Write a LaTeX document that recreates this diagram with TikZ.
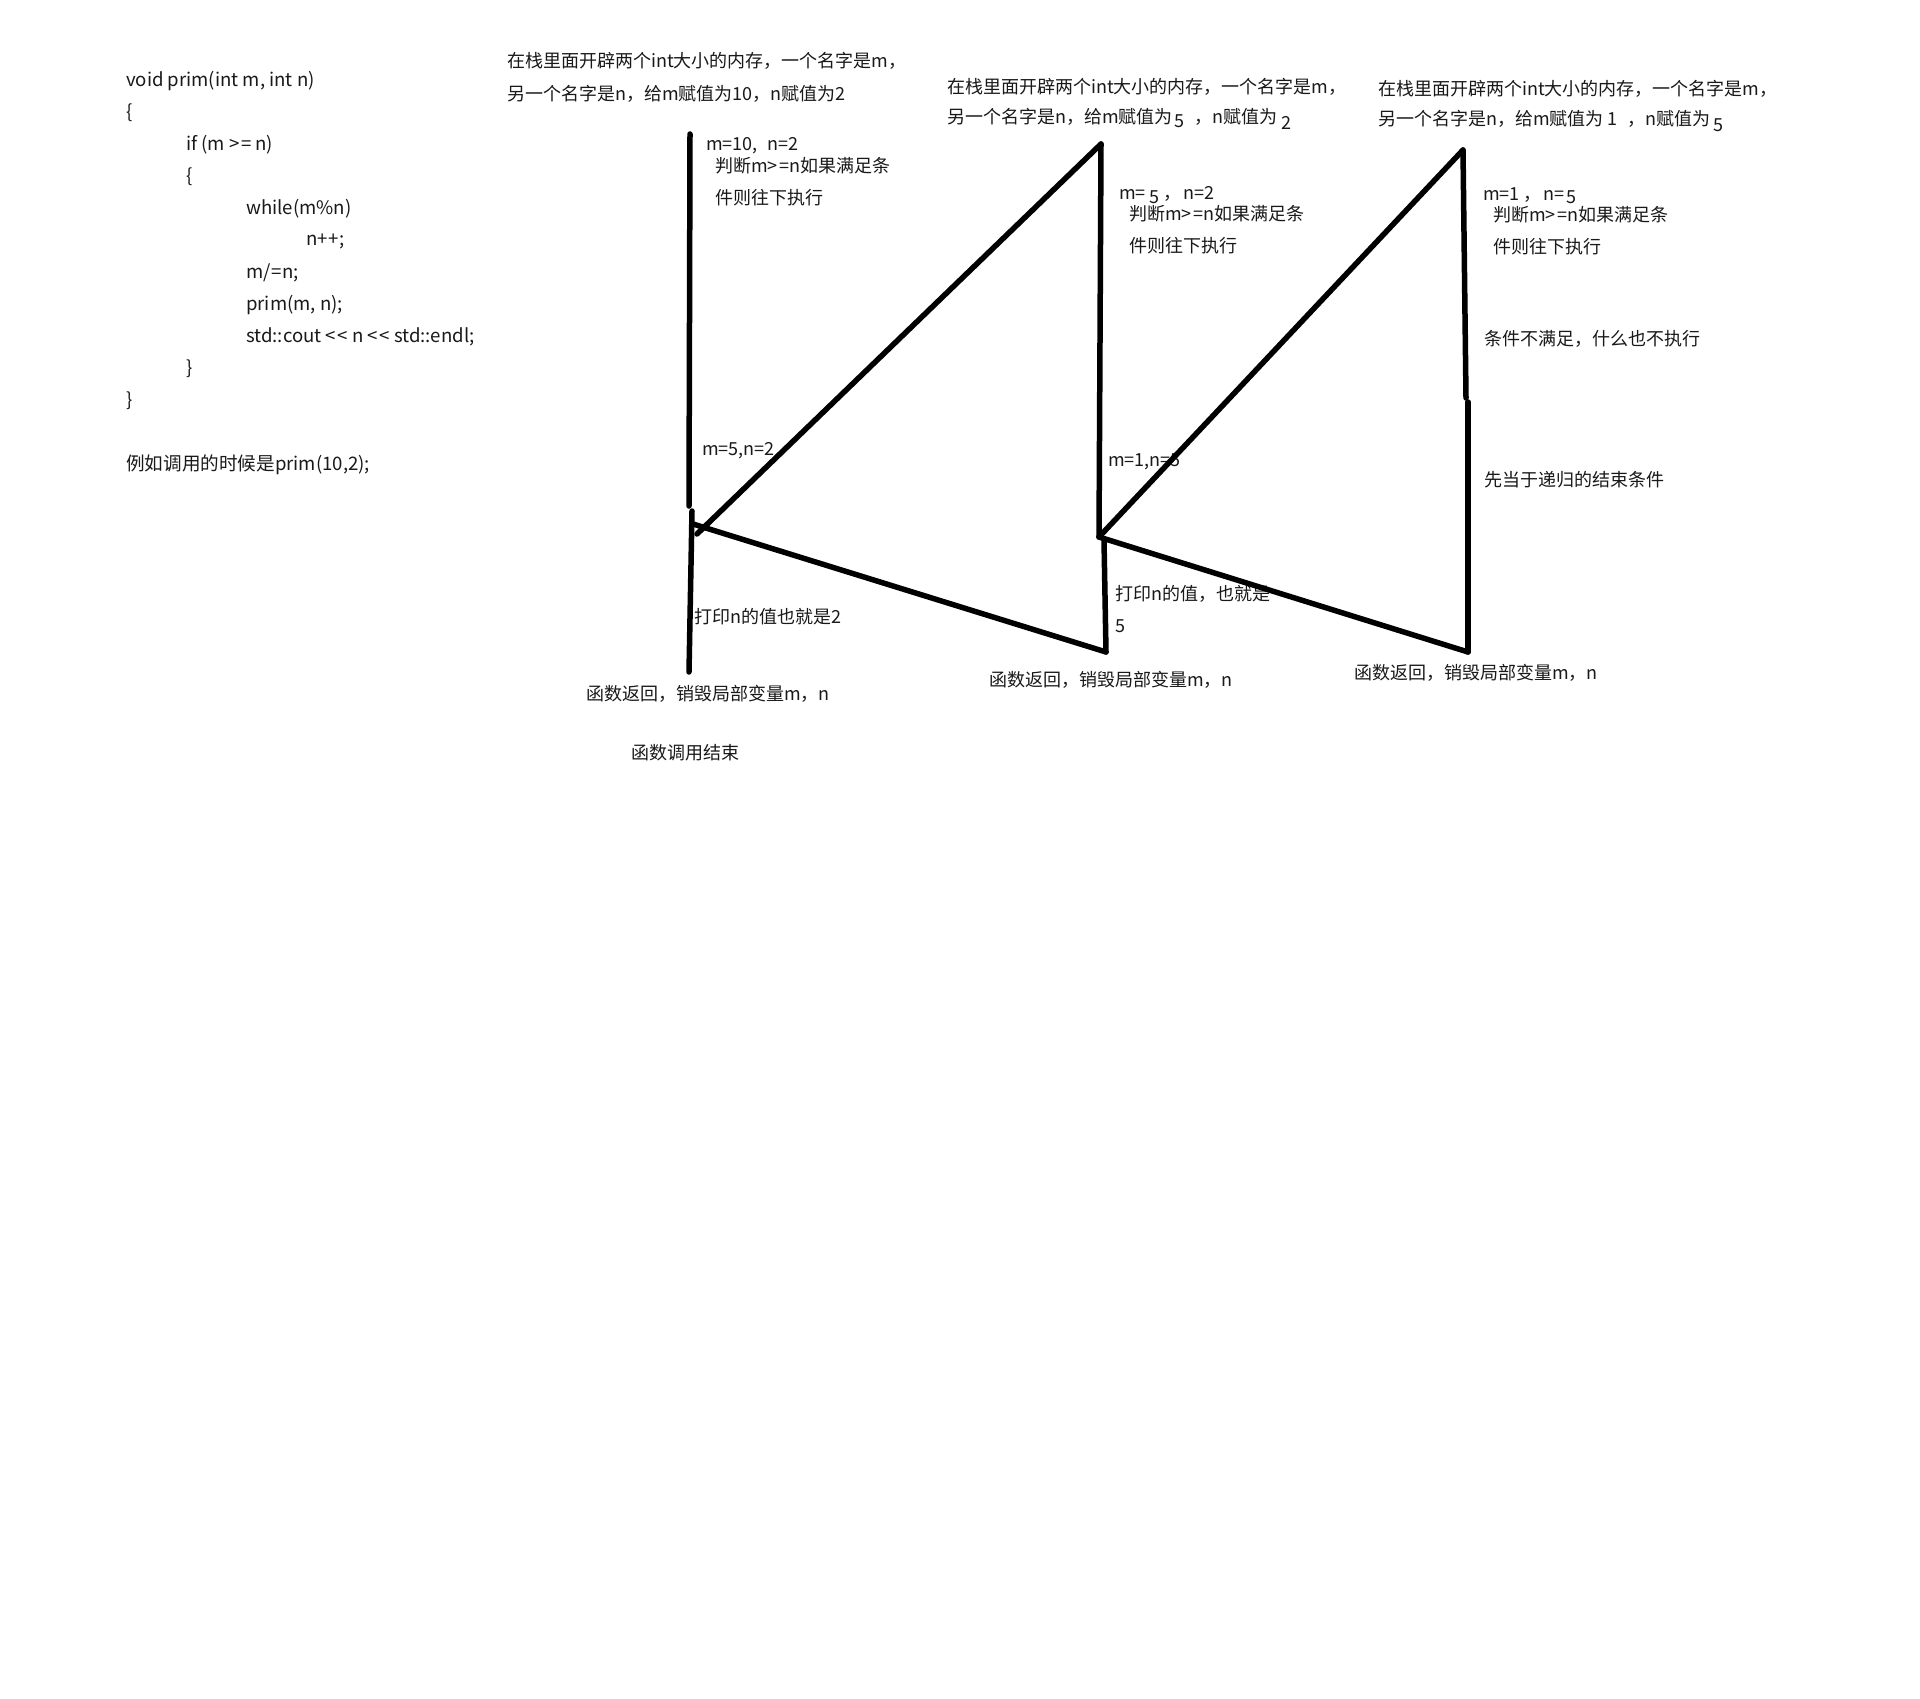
\documentclass[tikz,border=0pt]{standalone}
\usepackage{fontspec}
\setmainfont{Noto Sans CJK SC}
\newcommand{\gteq}{>\hspace{1.5pt}=}
\begin{document}
\begin{tikzpicture}[x=1pt,y=-1pt,
  txt/.style={anchor=west,inner sep=0pt,font=\fontsize{18pt}{20pt}\selectfont,text=black!90},
  code/.style={txt,font=\fontsize{18.6pt}{20pt}\selectfont},
  pen/.style={line width=5.5pt,line cap=round,line join=round}]
\useasboundingbox[fill=white] (0,0) rectangle (1920,1699);
% code
\node[code] (c1) at (126,81) {void prim(int m, int n)};
\node[code] (c2) at (126,113) {\{};
\node[code] (c3) at (186,145) {if (m \gteq\ n)};
\node[code] (c4) at (186,177) {\{};
\node[code] (c5) at (246,209) {while(m\%n)};
\node[code] (c6) at (306,241) {n+\hspace{1pt}+;};
\node[code] (c7) at (246,273) {m/\hspace{1pt}=n;};
\node[code] (c8) at (246,305) {prim(m, n);};
\node[code] (c9) at (246,337) {std::cout <\hspace{1.5pt}< n <\hspace{1.5pt}< std::endl;};
\node[code] (c10) at (186,369) {\}};
\node[code] (c11) at (126,401) {\}};
\node[code] (ex) at (126,465) {例如调用的时候是prim(10,2);};
% top texts
\node[txt] (t1a) at (507,61) {在栈里面开辟两个int大小的内存，一个名字是m，};
\node[txt] (t1b) at (507,94) {另一个名字是n，给m赋值为10，n赋值为2};
\node[txt] (t2a) at (947,87) {在栈里面开辟两个int大小的内存，一个名字是m，};
\node[txt] (t2b) at (947,119) {另一个名字是n，给m赋值为\hspace{2pt}\raisebox{-4pt}{5}\hspace{10pt}，n赋值为\hspace{4pt}\raisebox{-6pt}{2}};
\node[txt] (t3a) at (1378,89) {在栈里面开辟两个int大小的内存，一个名字是m，};
\node[txt] (t3b) at (1378,121) {另一个名字是n，给m赋值为\hspace{4pt}1\hspace{10pt}，n赋值为\hspace{3pt}\raisebox{-6pt}{5}};
% side labels
\node[txt] (l1a) at (706,146) {m=10,\hspace{10pt}n=2};
\node[txt] (l1b) at (715,166) {判断m\gteq n如果满足条};
\node[txt] (l1c) at (715,198) {件则往下执行};
\node[txt] (l2a) at (1119,195) {m=\hspace{4pt}\raisebox{-4pt}{5}\hspace{4pt}，\hspace{2pt}n=2};
\node[txt] (l2b) at (1129,214) {判断m\gteq n如果满足条};
\node[txt] (l2c) at (1129,246) {件则往下执行};
\node[txt] (l3a) at (1483,196) {m=1\hspace{4pt}，\hspace{2pt}n=\hspace{2pt}\raisebox{-3pt}{5}};
\node[txt] (l3b) at (1493,215) {判断m\gteq n如果满足条};
\node[txt] (l3c) at (1493,247) {件则往下执行};
\node[txt] (l3d) at (1484,339) {条件不满足，什么也不执行};
\node[txt] (l3e) at (1484,480) {先当于递归的结束条件};
\node[txt] (m1) at (702,451) {m=5,n=2};
\node[txt] (m2) at (1108,462) {m=1,n=5};
\node[txt] (p1) at (694,617) {打印n的值也就是2};
\node[txt] (p2a) at (1115,594) {打印n的值，也就是};
\node[txt] (p2b) at (1115,626) {5};
\node[txt] (r1) at (586,694) {函数返回，销毁局部变量m，n};
\node[txt] (r2) at (989,680) {函数返回，销毁局部变量m，n};
\node[txt] (r3) at (1354,673) {函数返回，销毁局部变量m，n};
\node[txt] (end) at (631,753) {函数调用结束};
% pen strokes
\coordinate (v1top) at (690,134);
\coordinate (v1mid) at (689,506);
\coordinate (v1low) at (692,511);
\coordinate (v1bot) at (689,672);
\coordinate (j1) at (693,524);
\coordinate (d1s) at (697,534);
\coordinate (v2top) at (1101,144);
\coordinate (j2) at (1099,537);
\coordinate (v2low) at (1104,540);
\coordinate (v2bot) at (1106,652);
\coordinate (v3top) at (1463,150);
\coordinate (v3mid) at (1466,398);
\coordinate (v3low) at (1468,402);
\coordinate (v3bot) at (1468,652);
\draw[pen] (v1top) -- (v1mid);
\draw[pen] (v1low) -- (v1bot);
\draw[pen] (d1s) -- (v2top);
\draw[pen] (j1) -- (v2bot);
\draw[pen] (v2top) -- (j2);
\draw[pen] (v2low) -- (v2bot);
\draw[pen] (j2) -- (v3top);
\draw[pen] (j2) -- (v3bot);
\draw[pen] (v3top) -- (v3mid);
\draw[pen] (v3low) -- (v3bot);
\end{tikzpicture}
\end{document}
